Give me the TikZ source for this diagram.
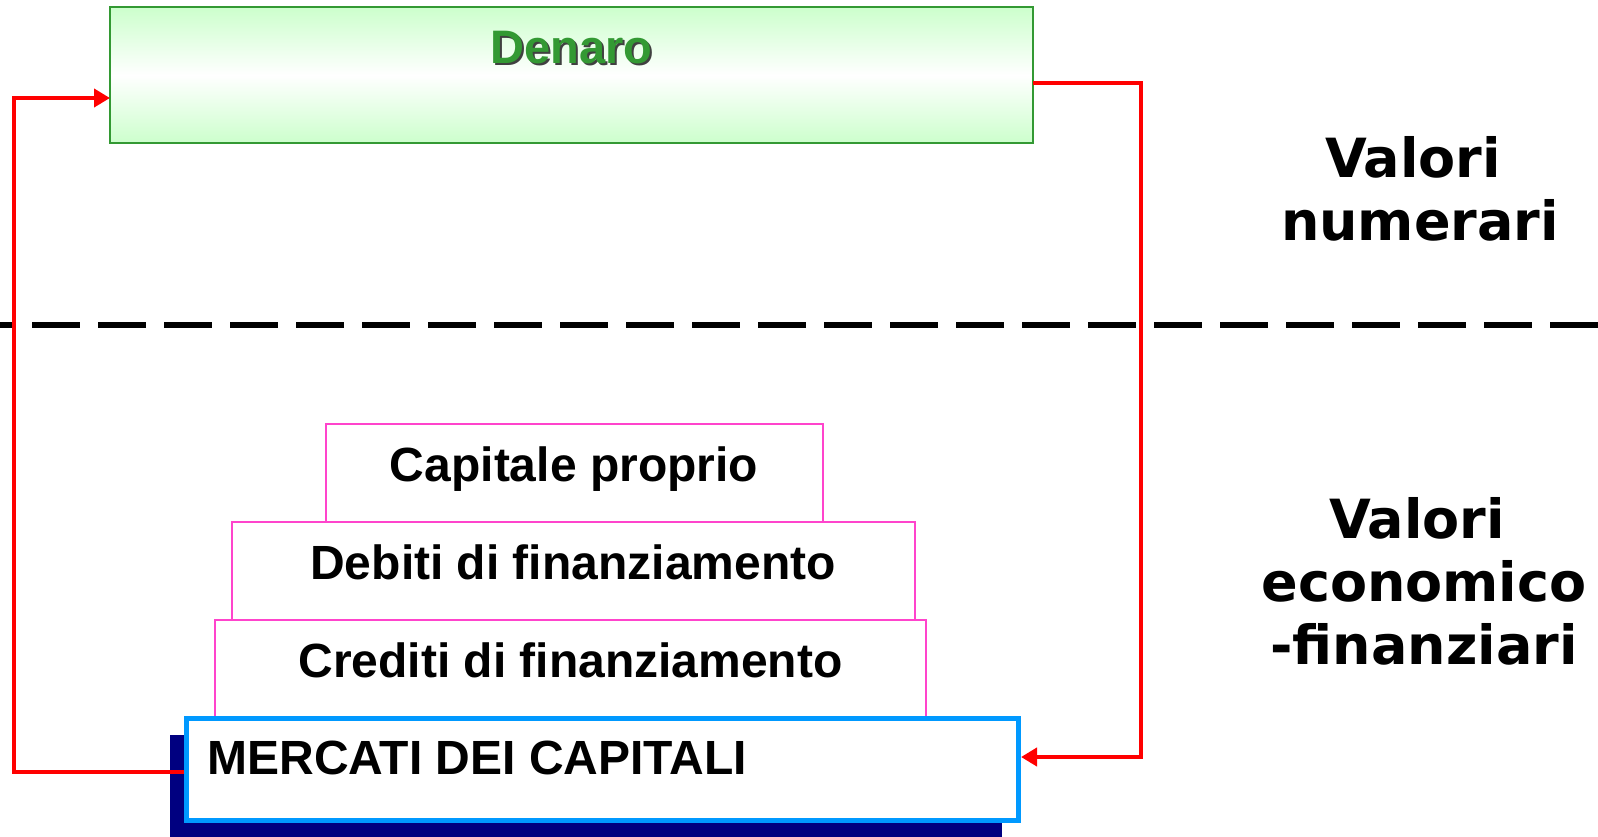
\documentclass[tikz,border=0pt]{standalone}
\usepackage{fontspec}
\setmainfont{Liberation Sans}
\newfontfamily\sidefont{DejaVu Sans}
\usepackage{tikz}
\usetikzlibrary{arrows.meta,positioning,shadows}
\definecolor{denarogreen}{HTML}{339933}
\definecolor{denarolight}{HTML}{CCFFCC}
\definecolor{layerpink}{HTML}{FF44CC}
\definecolor{marketblue}{HTML}{0099FF}
\definecolor{marketnavy}{HTML}{000080}
\tikzset{
    % Money box
    moneybox/.style={draw=denarogreen,line width=1pt,top color=denarolight,bottom color=denarolight,middle color=white,minimum width=461.5pt,minimum height=68pt,outer sep=0pt},
    % Money label
    moneytext/.style={text=denarogreen,font=\fontsize{23.5}{27}\selectfont\bfseries},
    % Layer of financing values
    layer/.style={draw=layerpink,line width=1pt,fill=white,minimum height=49pt,outer sep=0pt,
        text height=17.5pt,text depth=9pt,font=\fontsize{24}{28}\selectfont\bfseries},
    % Capital market box
    market/.style={draw=marketblue,line width=2.5pt,fill=white,minimum width=416pt,minimum height=51pt,outer sep=0pt,
        drop shadow={fill=marketnavy,opacity=1,shadow xshift=-8.5pt,shadow yshift=-8pt}},
    % Market label
    markettext/.style={inner sep=0pt,font=\fontsize{24}{28}\selectfont\bfseries},
    % Money flow
    flow/.style={-{Triangle[length=8pt,width=9pt]},line width=2pt,red},
    % Side labels
    sidelabel/.style={align=center,font=\sidefont\fontsize{27}{31.5}\selectfont\bfseries},
    % Separator
    sepline/.style={line width=3pt,dash pattern=on 24pt off 9pt,dash phase=17pt}
}
\begin{document}
\begin{tikzpicture}[x=0.5pt,y=-0.5pt]
    \useasboundingbox (0,0) rectangle (1598,836);

    % Separator between the two kinds of values
    \draw[sepline] (0,325) -- (1598,325);

    % Money box
    \node[moneybox] (denaro) at (571.5,75) {};
    \node[moneytext,text=black!75] (denaroshadow) at ([xshift=1pt,yshift=-21.5pt]denaro.north) {Denaro};
    \node[moneytext] (denarotxt) at ([yshift=-20.5pt]denaro.north) {Denaro};

    % Stack of financing values
    \node[layer,minimum width=355.5pt] (crediti) at (570.5,668.5) {Crediti di finanziamento};
    \node[layer,minimum width=341.5pt,above=0pt of crediti,xshift=1.25pt] (debiti) {Debiti di finanziamento};
    \node[layer,minimum width=248.5pt,above=0pt of debiti,xshift=0.5pt] (capitale) {Capitale proprio};

    % Capital market
    \node[market] (mercati) at (602.5,769.5) {};
    \node[markettext,anchor=west] (mercatitxt) at ([xshift=10.25pt,yshift=6pt]mercati.west) {MERCATI DEI CAPITALI};

    % Money flows
    \coordinate (leftbus) at (14,0);
    \coordinate (rightbus) at (1141,0);
    \coordinate (mercatiout) at ([xshift=-1.25pt,yshift=-1.25pt]mercati.west);
    \coordinate (mercatiin) at ([xshift=1.25pt,yshift=6.25pt]mercati.east);
    \coordinate (denaroin) at ([yshift=-11.5pt]denaro.west);
    \coordinate (denaroout) at ([yshift=-4pt]denaro.east);
    \draw[flow] (mercatiout) -| (leftbus |- denaroin) -- (denaroin);
    \draw[flow] (denaroout) -| (rightbus |- mercatiin) -- (mercatiin);

    % Side labels
    \node[sidelabel] (numerari) at (1420,189) {Valori\hspace*{7pt}\\numerari};
    \node[sidelabel] (economici) at (1424,581.5) {Valori\hspace*{7pt}\\economico\\-finanziari};
\end{tikzpicture}
\end{document}
